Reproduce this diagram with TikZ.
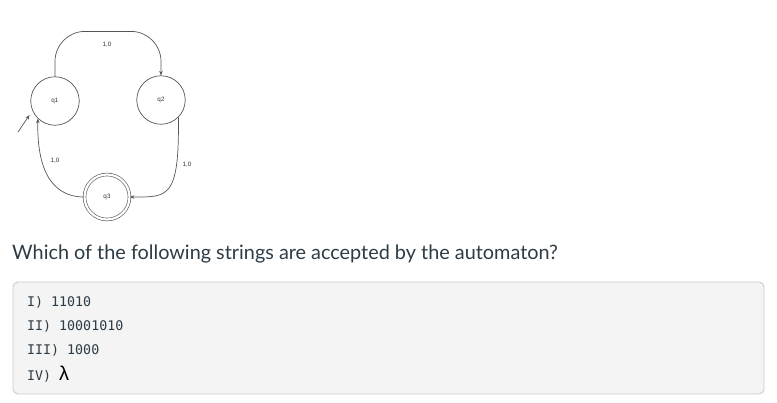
\documentclass[tikz,border=0pt]{standalone}
\usepackage{fontspec}
\setmainfont{Lato}
\newfontfamily\diafont{Liberation Sans}
\newfontfamily\codefont{DejaVu Sans Mono}
\usetikzlibrary{arrows.meta,calc}
\definecolor{txt}{HTML}{2D3B45}
\definecolor{edgecol}{HTML}{555555}
\definecolor{boxfill}{HTML}{F4F4F4}
\definecolor{boxline}{HTML}{C7CDD1}
\begin{document}
\begin{tikzpicture}[x=1pt,y=-1pt,
  state/.style={circle,draw=edgecol,line width=0.7pt,minimum size=48.5pt,inner sep=0pt,font=\diafont\fontsize{6.3}{7}\selectfont,text=black!80},
  accept/.style={circle,draw=edgecol,line width=0.6pt,double=white,double distance=2.2pt,minimum size=45pt,inner sep=0pt,font=\diafont\fontsize{6.3}{7}\selectfont,text=black!80},
  edge/.style={draw=edgecol,line width=0.7pt,-{Stealth[length=4.5pt,width=3.6pt]}},
  lbl/.style={font=\diafont\fontsize{6.3}{7}\selectfont,text=black!80,inner sep=0pt},
  code/.style={font=\codefont\fontsize{13.3}{16}\selectfont,text=txt,anchor=west,inner sep=0pt}]
\useasboundingbox (0,0) rectangle (777,402);

\node[state] (q1) at (55,101) {q1};
\node[state] (q2) at (161,100) {q2};
\node[accept] (q3) at (107,197) {q3};

\coordinate (i0) at (18,132);
\coordinate (i1) at (29.5,115);
\draw[edge] (i0) -- (i1);

\draw[edge,rounded corners=30pt] (q1.north) -- ++(0,-45) -| (q2.north);
\draw[edge] (q2.-45) .. controls ($(q2.-45)+(1,82)$) and ($(q3.east)+(38,0)$) .. (q3.east);
\draw[edge] (q3.west) .. controls ($(q3.west)+(-38,0)$) and ($(q1.-134)+(-1,41)$) .. (q1.-134);

\node[lbl] (l12) at (107,45) {1,0};
\node[lbl] (l23) at (187,165) {1,0};
\node[lbl] (l31) at (55,161) {1,0};

\node[font=\fontsize{19.85}{24}\selectfont,text=txt,anchor=base west,inner sep=0pt] (q) at (12,259) {Which of the following strings are accepted by the automaton?};

\draw[draw=boxline,fill=boxfill,line width=0.9pt,rounded corners=5pt] (13,282) rectangle (764,394);

\node[code] (c1) at (27,302) {I) 11010};
\node[code] (c2) at (27,326) {II) 10001010};
\node[code] (c3) at (27,350) {III) 1000};
\node[code] (c4) at (27,374) {IV) {\diafont\fontsize{20}{24}\selectfont\textcolor{black}{λ}}};
\end{tikzpicture}
\end{document}
